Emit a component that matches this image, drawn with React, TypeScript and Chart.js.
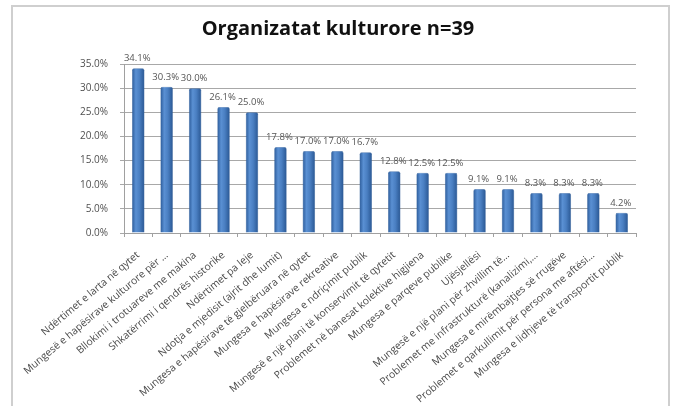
import React, { useEffect, useRef } from "react";
import { Chart, registerables } from "chart.js";

Chart.register(...registerables);

const categories: string[] = [
  "Ndërtimet e larta në qytet",
  "Mungesë e hapësirave kulturore për …",
  "Bllokimi i trotuareve me makina",
  "Shkatërrimi i qendrës historike",
  "Ndërtimet pa leje",
  "Ndotja e mjedisit (ajrit dhe lumit)",
  "Mungesa e hapësirave të gjelbëruara në qytet",
  "Mungesa e hapësirave rekreative",
  "Mungesa e ndriçimit publik",
  "Mungesë e një plani të konservimit të qytetit",
  "Problemet në banesat kolektive higjiena",
  "Mungesa e parqeve publike",
  "Ujësjellësi",
  "Mungesë e një plani për zhvillim të…",
  "Problemet me infrastrukturë (kanalizimi,…",
  "Mungesa e mirëmbajtjes së rrugëve",
  "Problemet e qarkullimit për persona me aftësi…",
  "Mungesa e lidhjeve të transportit publik",
];

const values: number[] = [
  34.1, 30.3, 30.0, 26.1, 25.0, 17.8, 17.0, 17.0, 16.7, 12.8, 12.5, 12.5, 9.1,
  9.1, 8.3, 8.3, 8.3, 4.2,
];

const yMin = 0;
const yMax = 35;
const yStep = 5;
const titleText = "Organizatat kulturore n=39";

const W = 676;
const H = 406;

const FONT = "'Open Sans', Lato, 'DejaVu Sans', sans-serif";

const valueLabels = {
  id: "valueLabels",
  afterDatasetsDraw(chart: any) {
    const ctx = chart.ctx;
    const meta = chart.getDatasetMeta(0);
    ctx.save();
    ctx.font = `9.5px ${FONT}`;
    ctx.fillStyle = "#555555";
    ctx.textAlign = "center";
    ctx.textBaseline = "bottom";
    meta.data.forEach((el: any, i: number) => {
      const v = chart.data.datasets[0].data[i] as number;
      ctx.fillText(`${v.toFixed(1)}%`, el.x - 1, el.y - 5);
    });
    ctx.restore();
  },
};

export default function App() {
  const ref = useRef<HTMLCanvasElement | null>(null);

  useEffect(() => {
    if (!ref.current) return;
    const chart = new Chart(ref.current, {
      type: "bar",
      data: {
        labels: categories,
        datasets: [
          {
            data: values,
            yAxisID: "y",
            backgroundColor: (c: any) => {
              const ch = c.chart;
              const xs = ch.scales && ch.scales.x;
              if (!xs || c.dataIndex === undefined) return "#4a7ebf";
              const cx = xs.getPixelForValue(c.dataIndex);
              if (!Number.isFinite(cx)) return "#4a7ebf";
              const half = 6;
              const g = ch.ctx.createLinearGradient(cx - half, 0, cx + half, 0);
              g.addColorStop(0, "#2d5d9c");
              g.addColorStop(0.3, "#5a90d3");
              g.addColorStop(0.6, "#4a7fc2");
              g.addColorStop(1, "#2a5894");
              return g;
            },
            borderColor: "#2e5b95",
            borderWidth: 0.5,
            borderRadius: 2,
            borderSkipped: "bottom",
            barPercentage: 0.44,
            categoryPercentage: 1,
          },
        ],
      },
      options: {
        responsive: false,
        animation: false,
        devicePixelRatio: 1,
        layout: { padding: { left: 0, right: 0, top: 0, bottom: 0 } },
        plugins: {
          legend: { display: false },
          tooltip: { enabled: false },
          title: {
            display: true,
            text: titleText,
            color: "#111111",
            font: { family: FONT, size: 20, weight: "bold" },
            padding: { top: 17, bottom: 23 },
          },
        },
        scales: {
          x: {
            offset: true,
            grid: {
              display: true,
              offset: true,
              drawOnChartArea: false,
              drawTicks: true,
              tickLength: 4,
              color: "#a0a0a0",
            },
            border: { display: true, color: "#a0a0a0" },
            ticks: {
              autoSkip: false,
              minRotation: 40,
              maxRotation: 40,
              color: "#4a4a4a",
              padding: 12,
              font: { family: FONT, size: 10.3 },
            },
            afterFit: (s: any) => {
              s.height = H - 233;
            },
          },
          y: {
            position: "left",
            min: yMin,
            max: yMax,
            grid: {
              color: "#a8a8a8",
              lineWidth: 1,
              drawTicks: true,
              tickLength: 4,
            },
            border: { display: true, color: "#a0a0a0" },
            ticks: {
              stepSize: yStep,
              color: "#505050",
              padding: 12,
              font: { family: FONT, size: 10 },
              callback: (v: any) => `${Number(v).toFixed(1)}%`,
            },
            afterFit: (s: any) => {
              s.width = 124;
            },
          },
          yRight: {
            position: "right",
            display: true,
            min: yMin,
            max: yMax,
            grid: { display: false, drawTicks: false },
            border: { display: false },
            ticks: { display: false },
            afterFit: (s: any) => {
              s.width = 40;
            },
          },
        },
      },
      plugins: [valueLabels],
    });
    return () => chart.destroy();
  }, []);

  return (
    <div style={{ position: "fixed", left: 0, top: 0, width: W, height: H, background: "#ffffff" }}>
      <div
        style={{
          position: "absolute",
          left: 11,
          top: 5,
          width: 659 - 4,
          height: 404 - 4,
          border: "2px solid #cfcfcf",
          boxSizing: "content-box",
        }}
      />
      <canvas ref={ref} width={W} height={H} style={{ position: "absolute", left: 0, top: 0, width: W, height: H }} />
    </div>
  );
}
